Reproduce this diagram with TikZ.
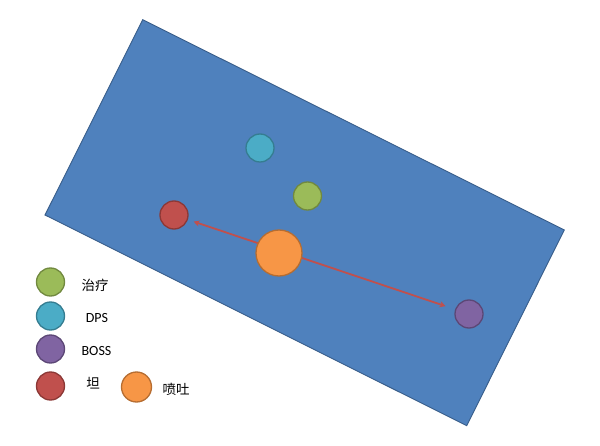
\documentclass[tikz,border=0pt]{standalone}
\usepackage{fontspec}
\setmainfont{Carlito}
\newfontfamily\cjk{Noto Sans CJK SC}
\usetikzlibrary{arrows.meta}
\definecolor{fieldfill}{HTML}{4F81BD}
\definecolor{fielddraw}{HTML}{385D8A}
\definecolor{healfill}{HTML}{9BBB59}
\definecolor{healdraw}{HTML}{71893F}
\definecolor{dpsfill}{HTML}{4BACC6}
\definecolor{dpsdraw}{HTML}{357D91}
\definecolor{bossfill}{HTML}{8064A2}
\definecolor{bossdraw}{HTML}{5C4776}
\definecolor{tankfill}{HTML}{C0504D}
\definecolor{tankdraw}{HTML}{8C3836}
\definecolor{breathfill}{HTML}{F79646}
\definecolor{breathdraw}{HTML}{B66D31}
\begin{document}
\begin{tikzpicture}[x=1pt,y=-1pt,
  token/.style={circle, inner sep=0pt, minimum size=28pt, line width=1.3pt},
  heal/.style={token, fill=healfill, draw=healdraw},
  dps/.style={token, fill=dpsfill, draw=dpsdraw},
  boss/.style={token, fill=bossfill, draw=bossdraw},
  tank/.style={token, fill=tankfill, draw=tankdraw},
  breath/.style={token, fill=breathfill, draw=breathdraw},
  lbl/.style={inner sep=0pt, font=\fontsize{14}{16}\selectfont},
  cjklbl/.style={inner sep=0pt, font=\cjk\fontsize{13.5}{16}\selectfont},
  reach/.style={draw=tankfill, line width=1.8pt, {Stealth[length=6pt,width=6pt]}-{Stealth[length=6pt,width=6pt]}}
]
\useasboundingbox (0,0) rectangle (600,446);
% field
\path[fill=fieldfill, draw=fielddraw, line width=0.9pt]
  (142.7,19.7) coordinate (fa) -- (564.3,230) coordinate (fb)
  -- (466.7,425.7) coordinate (fc) -- (45,215) coordinate (fd) -- cycle;
% tokens on the field
\node[dps] (fdps) at (260,148) {};
\node[heal] (fheal) at (307.5,196) {};
\node[tank] (ftank) at (174,215) {};
\node[boss] (fboss) at (469,314) {};
\draw[reach, shorten <=6pt, shorten >=10pt] (ftank) -- (fboss);
\node[breath, minimum size=46pt] (fbreath) at (279,253) {};
% legend
\node[heal] (lheal) at (50.5,282) {};
\node[dps] (ldps) at (50.5,316) {};
\node[boss] (lboss) at (50.5,349) {};
\node[tank] (ltank) at (50.5,386) {};
\node[breath, minimum size=30pt] (lbreath) at (136.5,387) {};
\node[cjklbl] (theal) at (95,285) {治疗};
\node[lbl] (tdps) at (97,318) {DPS};
\node[lbl] (tboss) at (96.5,351) {BOSS};
\node[cjklbl] (ttank) at (93,383) {坦};
\node[cjklbl] (tbreath) at (176,389) {喷吐};
\end{tikzpicture}
\end{document}
